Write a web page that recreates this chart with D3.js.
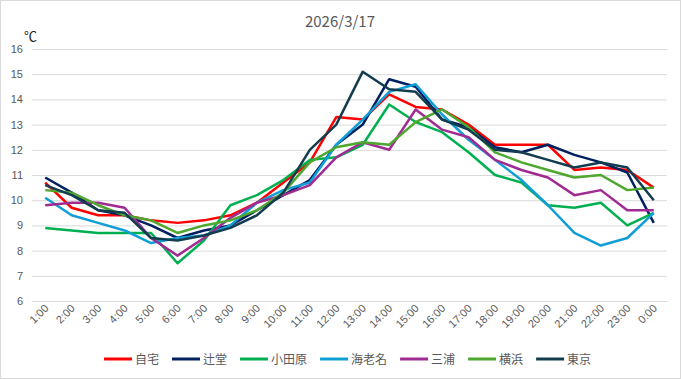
<!DOCTYPE html>
<html><head><meta charset="utf-8">
<script src="https://cdn.jsdelivr.net/npm/d3@7/dist/d3.min.js"></script>
<style>
html,body{margin:0;padding:0;background:#fff;}
svg{display:block;font-family:"Noto Sans CJK JP","Noto Sans",sans-serif;}
</style></head>
<body><svg id="c" width="681" height="379"></svg>
<script>
const hours = ["1:00","2:00","3:00","4:00","5:00","6:00","7:00","8:00","9:00","10:00","11:00","12:00","13:00","14:00","15:00","16:00","17:00","18:00","19:00","20:00","21:00","22:00","23:00","0:00"];
const seriesNames = ["自宅","辻堂","小田原","海老名","三浦","横浜","東京"];
const jitaku   = [10.7,9.7,9.4,9.4,9.2,9.1,9.2,9.4,9.9,10.7,11.5,13.3,13.2,14.2,13.7,13.6,13.0,12.2,12.2,12.2,11.2,11.3,11.2,10.5];
const tsujido  = [10.9,10.3,9.6,9.4,9.0,8.5,8.8,9.0,9.6,10.2,10.8,12.2,13.0,14.8,14.5,13.2,12.9,12.1,11.9,12.2,11.8,11.5,11.1,9.1];
const odawara  = [8.9,8.8,8.7,8.7,8.7,7.5,8.4,9.8,10.2,10.8,11.6,11.7,12.2,13.8,13.1,12.7,11.9,11.0,10.7,9.8,9.7,9.9,9.0,9.5];
const ebina    = [10.1,9.4,9.1,8.8,8.3,8.5,8.6,9.0,9.9,10.4,10.7,12.2,13.2,14.3,14.6,13.4,12.4,11.6,10.8,9.8,8.7,8.2,8.5,9.5];
const miura    = [9.8,9.9,9.9,9.7,8.5,7.8,8.5,9.3,9.9,10.2,10.6,11.7,12.3,12.0,13.6,12.8,12.5,11.6,11.2,10.9,10.2,10.4,9.6,9.6];
const yokohama = [10.4,10.3,9.8,9.4,9.2,8.7,9.0,9.2,9.6,10.3,11.5,12.1,12.3,12.2,13.1,13.6,12.9,11.9,11.5,11.2,10.9,11.0,10.4,10.5];
const tokyo    = [10.6,10.2,9.6,9.5,8.5,8.4,8.6,8.9,9.4,10.3,12.0,13.0,15.1,14.4,14.3,13.2,12.8,12.0,11.9,11.6,11.3,11.5,11.3,10.0];
const yTicks = [6,7,8,9,10,11,12,13,14,15,16];
const colors = ["#FF0000","#002060","#00B050","#0F9ED5","#A02B93","#4EA72E","#123C4F"];
const seriesData = [jitaku,tsujido,odawara,ebina,miura,yokohama,tokyo];

const svg = d3.select("#c");
svg.append("rect").attr("x",0.5).attr("y",0.5).attr("width",680).attr("height",378)
  .attr("fill","#fff").attr("stroke","#D9D9D9");

const pL=32, pR=667, pT=49, pB=301;
const x = d3.scaleBand().domain(hours).range([pL,pR]);
const y = d3.scaleLinear().domain([6,16]).range([pB,pT]);

svg.append("text").attr("x",340).attr("y",27).attr("text-anchor","middle")
  .attr("font-size",15).attr("fill","#595959").text("2026/3/17");
svg.append("text").attr("x",24).attr("y",41).attr("font-size",13).attr("fill","#222").text("℃");

// grid
const yAxis = d3.axisLeft(y).tickValues(yTicks).tickSize(-(pR-pL)).tickPadding(9);
const gy = svg.append("g").attr("transform",`translate(${pL},0)`).call(yAxis);
gy.select(".domain").remove();
gy.selectAll(".tick line").attr("stroke","#D9D9D9").attr("stroke-width",1);
gy.selectAll(".tick text").attr("font-size",11).attr("fill","#595959");

// x axis
const xAxis = d3.axisBottom(x).tickSize(0).tickPadding(0);
const gx = svg.append("g").attr("transform",`translate(0,${pB})`).call(xAxis);
gx.select(".domain").remove();
gx.selectAll(".tick text").attr("font-size",11).attr("fill","#595959")
  .attr("text-anchor","end").attr("dy",0)
  .attr("transform","translate(4,8) rotate(-45)");

// lines
const line = d3.line().x((d,i)=>x(hours[i])+x.bandwidth()/2).y(d=>y(d));
seriesData.forEach((s,k)=>{
  svg.append("path").datum(s).attr("d",line).attr("fill","none")
    .attr("stroke",colors[k]).attr("stroke-width",2.5).attr("stroke-linejoin","round");
});

// legend
const lg = svg.append("g").attr("transform","translate(104,359)");
let cx = 0;
seriesNames.forEach((n,k)=>{
  const g = lg.append("g").attr("transform",`translate(${cx},0)`);
  g.append("line").attr("x1",0).attr("x2",28).attr("y1",0).attr("y2",0)
    .attr("stroke",colors[k]).attr("stroke-width",3);
  const t = g.append("text").attr("x",31).attr("y",4.5).attr("font-size",12).attr("fill","#595959").text(n);
  cx += 31 + t.node().getComputedTextLength() + 13;
});
</script></body></html>
